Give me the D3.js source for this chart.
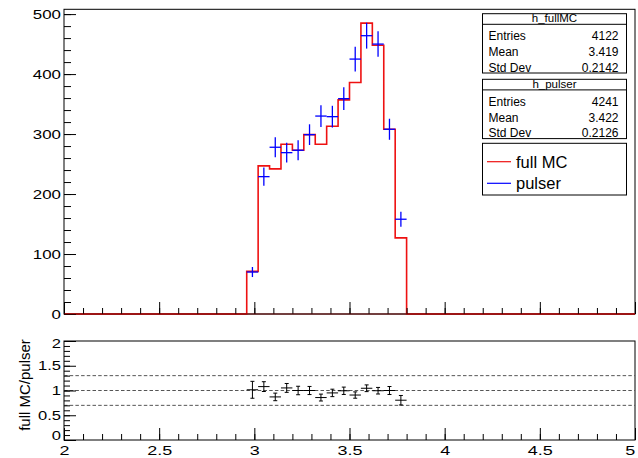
<!DOCTYPE html>
<html><head><meta charset="utf-8">
<script src="https://cdn.jsdelivr.net/npm/d3@7"></script>
<style>
html,body{margin:0;padding:0;background:#fff}
svg{display:block;font-family:"Liberation Sans",Arial,Helvetica,sans-serif}
</style></head><body>
<svg id="c" width="638" height="458"></svg>
<script>
// Binning: 50 bins of width 0.06 on [2, 5]
const xRange = [2, 5];
const binWidth = 0.06;
const firstFilledEdge = 2.96;
// Contents of the filled bins, 2.96 .. 3.80
const fullMC = [71, 247, 242, 283, 273, 299, 283, 313, 357, 386, 485, 448, 308, 127];
const pulser = [70, 229, 278, 269, 273, 299, 330, 329, 359, 425, 464, 450, 308, 158];

const yTicksTop = [0, 100, 200, 300, 400, 500];
const yTicksRatio = [0, 0.5, 1, 1.5, 2];
const xTicks = [2, 2.5, 3, 3.5, 4, 4.5, 5];
const refLines = [0.7, 1, 1.3];

const statTitles = ["h_fullMC", "h_pulser"];
const statNames = ["Entries", "Mean", "Std Dev"];
const statsFullMC = ["4122", "3.419", "0.2142"];
const statsPulser = ["4241", "3.422", "0.2126"];
const legendLabels = ["full MC", "pulser"];
const legendColors = ["#ee1111", "#0000ff"];

const svg = d3.select("#c");
const L = 64, R = 635;
const topT = 9.3, topB = 314;
const ratT = 341, ratB = 440;

const x = d3.scaleLinear().domain(xRange).range([L, R]);
const yTop = d3.scaleLinear().domain([0, 508]).range([topB, topT]);
const yRat = d3.scaleLinear().domain([0, 2]).range([ratB, ratT]);

const nBins = Math.round((xRange[1] - xRange[0]) / binWidth);
const offset = Math.round((firstFilledEdge - xRange[0]) / binWidth);
const edge = i => xRange[0] + i * binWidth;
const mcAll = d3.range(nBins).map(i => (i >= offset && i < offset + fullMC.length) ? fullMC[i - offset] : 0);

const minorX = d3.range(0, 31).map(i => 2 + i * 0.1);
const minorTop = d3.range(0, 26).map(i => i * 20);
const minorRat = d3.range(0, 21).map(i => i * 0.1);

function stretchLeft(g, sx, gap) {
  g.selectAll("text").attr("transform", `scale(${sx},1)`).attr("x", -gap / sx);
}

// ---------- upper pad ----------
svg.append("rect").attr("x", L).attr("y", topT).attr("width", R - L).attr("height", topB - topT)
  .attr("fill", "none").attr("stroke", "#000").attr("stroke-width", 1);

// full MC histogram outline
const stepPts = mcAll.map((c, i) => [edge(i), c]).concat([[xRange[1], 0]]);
svg.append("path")
  .attr("d", d3.line().x(d => x(d[0])).y(d => yTop(d[1])).curve(d3.curveStepAfter)(stepPts))
  .attr("fill", "none").attr("stroke", "#ee1111").attr("stroke-width", 1.6);

// pulser points with Poisson errors
const gP = svg.append("g").attr("stroke", "#0000ff").attr("stroke-width", 1.3);
pulser.forEach((n, k) => {
  const lo = edge(offset + k), hi = lo + binWidth, c = lo + binWidth / 2;
  const e = Math.sqrt(n);
  gP.append("line").attr("x1", x(lo)).attr("x2", x(hi)).attr("y1", yTop(n)).attr("y2", yTop(n));
  gP.append("line").attr("x1", x(c)).attr("x2", x(c)).attr("y1", yTop(n - e)).attr("y2", yTop(n + e));
});

// axes of upper pad
svg.append("g").attr("transform", `translate(0,${topB})`)
  .call(d3.axisBottom(x).tickValues(minorX).tickSize(-6).tickFormat(""))
  .call(g => g.select(".domain").remove());
svg.append("g").attr("transform", `translate(0,${topB})`)
  .call(d3.axisBottom(x).tickValues(xTicks).tickSize(-12).tickFormat(""))
  .call(g => g.select(".domain").remove());
svg.append("g").attr("transform", `translate(${L},0)`)
  .call(d3.axisLeft(yTop).tickValues(minorTop).tickSize(-7).tickFormat(""))
  .call(g => g.select(".domain").remove());
svg.append("g").attr("transform", `translate(${L},0)`)
  .call(d3.axisLeft(yTop).tickValues(yTicksTop).tickSize(-12).tickPadding(3))
  .call(g => g.select(".domain").remove())
  .call(g => g.selectAll("text").attr("font-size", 13).attr("fill", "#000"))
  .call(g => stretchLeft(g, 1.3, 3));
svg.append("line").attr("x1", L).attr("x2", R).attr("y1", topB).attr("y2", topB)
  .attr("stroke", "#600").attr("stroke-width", 1);

// stats boxes
function statsBox(y0, title, values) {
  const bx = 482.5, bw = 144;
  const g = svg.append("g");
  g.append("rect").attr("x", bx).attr("y", y0).attr("width", bw).attr("height", 59.3)
    .attr("fill", "#fff").attr("stroke", "#000").attr("stroke-width", 1);
  g.append("line").attr("x1", bx).attr("x2", bx + bw).attr("y1", y0 + 10.6).attr("y2", y0 + 10.6)
    .attr("stroke", "#000").attr("stroke-width", 1);
  g.append("text").attr("x", bx + bw / 2).attr("y", y0 + 8.6).attr("text-anchor", "middle")
    .attr("font-size", 11.5).text(title);
  statNames.forEach((nm, i) => {
    const yy = y0 + 26.6 + i * 15.6;
    g.append("text").attr("x", bx + 6).attr("y", yy).attr("font-size", 12).text(nm);
    g.append("text").attr("x", bx + 136).attr("y", yy).attr("font-size", 12)
      .attr("text-anchor", "end").text(values[i]);
  });
}
statsBox(13.7, statTitles[0], statsFullMC);
statsBox(79.3, statTitles[1], statsPulser);

// legend
const lg = svg.append("g");
lg.append("rect").attr("x", 482.5).attr("y", 143.3).attr("width", 144).attr("height", 51.7)
  .attr("fill", "#fff").attr("stroke", "#000").attr("stroke-width", 1);
legendLabels.forEach((lab, i) => {
  const yy = 161.7 + i * 21.6;
  lg.append("line").attr("x1", 487).attr("x2", 511).attr("y1", yy).attr("y2", yy)
    .attr("stroke", legendColors[i]).attr("stroke-width", 1.2);
  lg.append("text").attr("x", 516).attr("y", yy + 5.8).attr("font-size", 16.5).text(lab);
});

// ---------- ratio pad ----------
svg.append("rect").attr("x", L).attr("y", ratT).attr("width", R - L).attr("height", ratB - ratT)
  .attr("fill", "none").attr("stroke", "#000").attr("stroke-width", 1);

svg.append("g").selectAll("line").data(refLines).join("line")
  .attr("x1", L).attr("x2", R).attr("y1", d => yRat(d)).attr("y2", d => yRat(d))
  .attr("stroke", "#555").attr("stroke-width", 1).attr("stroke-dasharray", "3.5,2.2");

const gR = svg.append("g").attr("stroke", "#000").attr("stroke-width", 1);
fullMC.forEach((m, k) => {
  const p = pulser[k];
  const r = m / p, e = r * Math.sqrt(1 / m + 1 / p);
  const lo = edge(offset + k), hi = lo + binWidth, c = lo + binWidth / 2;
  gR.append("line").attr("x1", x(lo)).attr("x2", x(hi)).attr("y1", yRat(r)).attr("y2", yRat(r));
  gR.append("line").attr("x1", x(c)).attr("x2", x(c)).attr("y1", yRat(r - e)).attr("y2", yRat(r + e));
  [r - e, r + e].forEach(v => gR.append("line").attr("x1", x(c) - 2).attr("x2", x(c) + 2)
    .attr("y1", yRat(v)).attr("y2", yRat(v)));
});

svg.append("g").attr("transform", `translate(0,${ratB})`)
  .call(d3.axisBottom(x).tickValues(minorX).tickSize(-6).tickFormat(""))
  .call(g => g.select(".domain").remove());
svg.append("g").attr("transform", `translate(0,${ratB})`)
  .call(d3.axisBottom(x).tickValues(xTicks).tickSize(-12).tickPadding(5).tickFormat(d3.format("")))
  .call(g => g.select(".domain").remove())
  .call(g => g.selectAll("text").attr("font-size", 13.5).attr("fill", "#000")
    .attr("transform", "scale(1.33,1)")
    .attr("dx", d => d === xRange[1] ? "-0.3em" : null));
svg.append("g").attr("transform", `translate(${L},0)`)
  .call(d3.axisLeft(yRat).tickValues(minorRat).tickSize(-6).tickFormat(""))
  .call(g => g.select(".domain").remove());
svg.append("g").attr("transform", `translate(${L},0)`)
  .call(d3.axisLeft(yRat).tickValues(yTicksRatio).tickSize(-12).tickFormat(d3.format("")))
  .call(g => g.select(".domain").remove())
  .call(g => g.selectAll("text").attr("font-size", 12).attr("fill", "#000"))
  .call(g => stretchLeft(g, 1.38, 3))
  .call(g => g.selectAll("text").attr("dy", d => d === 0 ? "-0.02em" : d === 2 ? "0.58em" : "0.32em"));

svg.append("text").attr("transform", "translate(30,385) rotate(-90)")
  .attr("text-anchor", "middle").attr("font-size", 15).text("full MC/pulser");
</script>
</body></html>
